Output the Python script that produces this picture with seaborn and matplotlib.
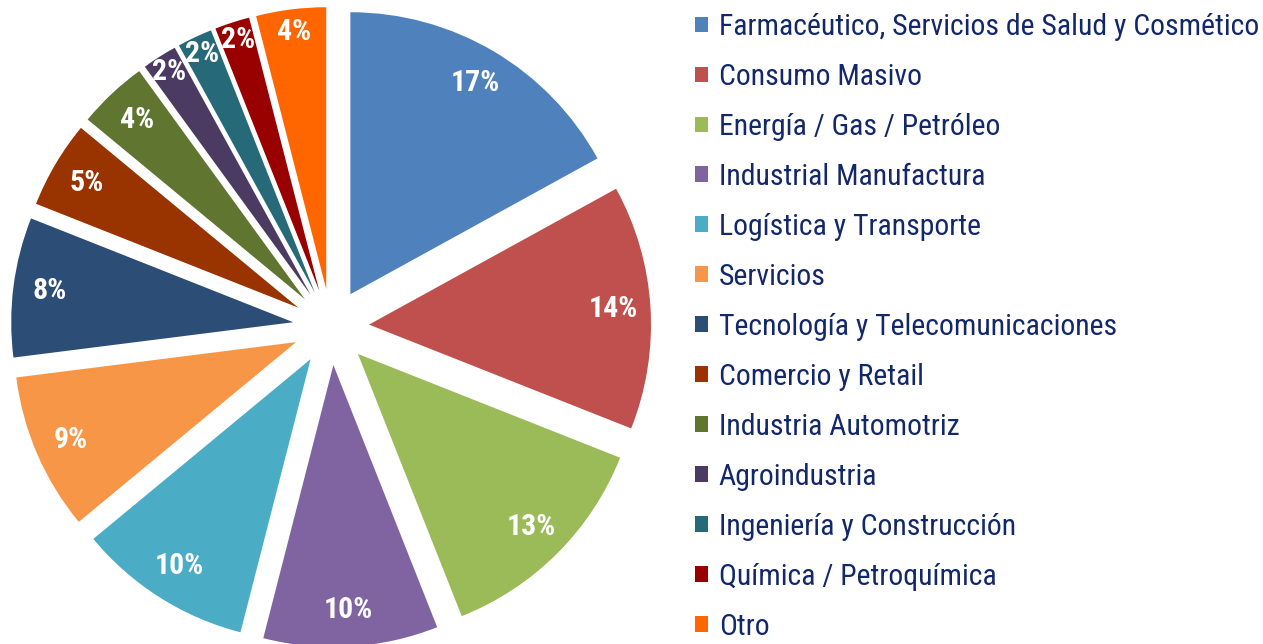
import numpy as np
import matplotlib
matplotlib.use("Agg")
import matplotlib.pyplot as plt
import seaborn as sns

categories = [
    "Farmacéutico, Servicios de Salud y Cosmético",
    "Consumo Masivo",
    "Energía / Gas / Petróleo",
    "Industrial Manufactura",
    "Logística y Transporte",
    "Servicios",
    "Tecnología y Telecomunicaciones",
    "Comercio y Retail",
    "Industria Automotriz",
    "Agroindustria",
    "Ingeniería y Construcción",
    "Química / Petroquímica",
    "Otro",
]
values = [17, 14, 13, 10, 10, 9, 8, 5, 4, 2, 2, 2, 4]
colors = ["#4F81BD", "#C0504D", "#9BBB59", "#8064A2", "#4BACC6", "#F79646",
          "#2C4D75", "#993300", "#5F7530", "#4B3A61", "#266A7A", "#990000", "#FF6600"]

sns.set_theme(style="white")
plt.rcParams['font.family'] = ['Roboto Condensed', 'Archivo Narrow', 'Liberation Sans', 'DejaVu Sans']

W, H = 1263, 644
fig = plt.figure(figsize=(W / 100, H / 100), dpi=100)
fig.patch.set_facecolor("white")

R_PX = 282.0
CX, CY = 331.0, 327.0
L = 1.16
half = L * R_PX
ax = fig.add_axes([(CX - half) / W, (H - CY - half) / H, 2 * half / W, 2 * half / H])
palette = sns.color_palette(colors)
wedges, _ = ax.pie(values, colors=palette, startangle=90, counterclock=False,
                   explode=[0.135] * len(values), radius=1,
                   wedgeprops=dict(linewidth=0))
ax.set_xlim(-L, L)
ax.set_ylim(-L, L)
ax.set_aspect("equal")
ax.axis("off")

for i, (w, v) in enumerate(zip(wedges, values)):
    th = np.deg2rad((w.theta1 + w.theta2) / 2)
    cx, cy = w.center
    if v > 4 or i == 8:
        d = 0.87
    elif v == 4:
        d = 0.92
    else:
        d = 0.935
    ax.text(cx + d * w.r * np.cos(th), cy + d * w.r * np.sin(th), f"{v}%",
            ha="center", va="center", color="white", fontsize=21.5,
            fontweight="bold")

navy = "#13286A"
leg = fig.legend(wedges, categories, loc="upper left",
                 bbox_to_anchor=(695 / W, 1 - 13 / H), frameon=False,
                 fontsize=21.4, labelcolor=navy, handlelength=0.44,
                 handleheight=0.44, handletextpad=0.36, labelspacing=0.74,
                 borderpad=0, borderaxespad=0)

fig.savefig("out.png", dpi=100, facecolor="white")
